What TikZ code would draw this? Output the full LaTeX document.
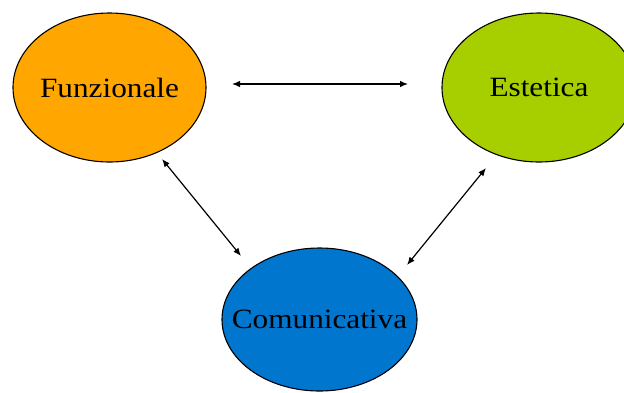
\documentclass[tikz,border=0pt]{standalone}
\usepackage{fontspec}
\setmainfont[FakeStretch=1.12]{Liberation Serif}
\usetikzlibrary{shapes.geometric,arrows.meta}
\definecolor{orangefill}{RGB}{255,166,0}
\definecolor{greenfill}{RGB}{167,207,0}
\definecolor{bluefill}{RGB}{0,118,207}
\begin{document}
\begin{tikzpicture}[x=1bp,y=-1bp,
  bubble/.style={ellipse,draw=black,line width=1.1bp,inner sep=0pt,
    label={[font=\fontsize{28}{30}\selectfont,text=black]center:#1}},
  link/.style={{Latex[length=8bp,width=6.5bp]}-{Latex[length=8bp,width=6.5bp]},line width=1.2bp,black}]
\useasboundingbox (0,0) rectangle (624,392);
\clip (0,0) rectangle (624,392);
\node[bubble=Funzionale,fill=orangefill,minimum width=193bp,minimum height=149bp] (fun) at (109.5,87.5) {};
\node[bubble=Estetica,fill=greenfill,minimum width=194bp,minimum height=149bp] (est) at (539,87.5) {};
\node[bubble=Comunicativa,fill=bluefill,minimum width=195bp,minimum height=143bp] (com) at (319.5,319.5) {};
\coordinate (h1) at (232,84);
\coordinate (h2) at (408,84);
\coordinate (l1) at (162,159);
\coordinate (l2) at (241,256);
\coordinate (r1) at (486,168);
\coordinate (r2) at (407,265);
\draw[link] (h1) -- (h2);
\draw[link] (l1) -- (l2);
\draw[link] (r1) -- (r2);
\end{tikzpicture}
\end{document}
